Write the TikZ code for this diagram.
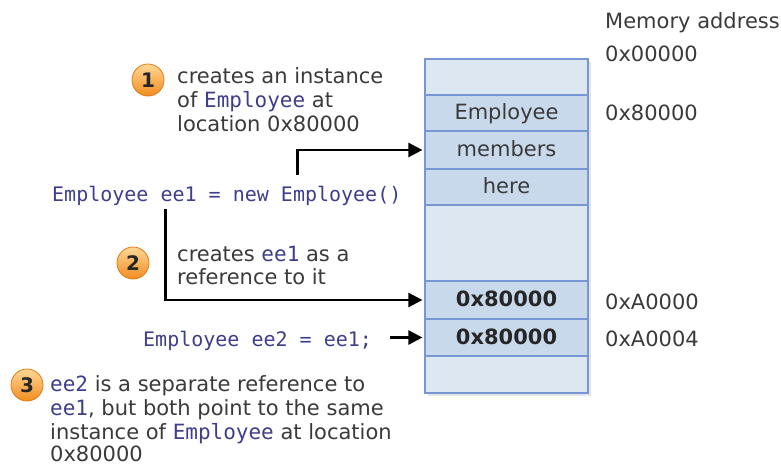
\documentclass[tikz,border=0pt]{standalone}
\usepackage{fontspec}
\setmainfont{DejaVu Sans}
\setmonofont{DejaVu Sans Mono}
\usetikzlibrary{arrows.meta}
\definecolor{txt}{RGB}{58,58,58}
\definecolor{codecol}{RGB}{62,62,140}
\definecolor{cellA}{RGB}{221,231,242}
\definecolor{cellB}{RGB}{201,217,236}
\definecolor{cellline}{RGB}{118,150,212}
\definecolor{orTop}{RGB}{255,216,150}
\definecolor{orBot}{RGB}{242,140,32}
\definecolor{orLine}{RGB}{226,122,22}
\newcommand\codeword[1]{{\ttfamily\color{codecol}#1}}
\begin{document}
\begin{tikzpicture}[x=1pt,y=-1pt,
  lbl/.style={inner sep=0pt, anchor=base west, text=txt, font=\fontsize{21}{24}\selectfont},
  codetxt/.style={inner sep=0pt, anchor=base west, text=codecol, font=\ttfamily\fontsize{20}{24}\selectfont},
  cell/.style={draw=cellline, line width=1.2pt, minimum width=163pt, inner sep=0pt,
    text height=15pt, text depth=2pt, text=txt, font=\fontsize{21}{24}\selectfont},
  light/.style={cell, fill=cellA},
  dark/.style={cell, fill=cellB},
  bold/.style={font=\bfseries\fontsize{21}{24}\selectfont, text=black!85},
  bubble/.style={circle, minimum size=32pt, inner sep=0pt, top color=orTop, bottom color=orBot,
    draw=orLine, line width=0.8pt, text=black!85, font=\bfseries\fontsize{20}{22}\selectfont},
  arr/.style={line width=2.6pt, -{Triangle[length=14pt,width=14pt]}, shorten >=2pt}
]
\useasboundingbox (0,0) rectangle (781,466);

% shadow of memory column
\fill[black!10] (428,62) rectangle (591,396);

% memory cells
\node[light, minimum height=36pt] (m0) at (506.5,77) {};
\node[dark,  minimum height=36pt] (m1) at (506.5,113) {Employee};
\node[dark,  minimum height=38pt] (m2) at (506.5,150) {members};
\node[dark,  minimum height=36pt] (m3) at (506.5,187) {here};
\node[light, minimum height=76pt] (m4) at (506.5,243) {};
\node[dark,  minimum height=38pt, bold] (m5) at (506.5,300) {0x80000};
\node[dark,  minimum height=37pt, bold] (m6) at (506.5,337.5) {0x80000};
\node[light, minimum height=37pt] (m7) at (506.5,374.5) {};

% address labels
\node[lbl] (ma) at (605,28) {Memory address};
\node[lbl] (ad0) at (605,61.5) {0x00000};
\node[lbl] (ad1) at (605,120) {0x80000};
\node[lbl] (ad2) at (605,309) {0xA0000};
\node[lbl] (ad3) at (605,346) {0xA0004};

% bubble 1 and text
\node[bubble] (b1) at (148,80) {1};
\node[lbl] (t1a) at (177,83) {creates an instance};
\node[lbl] (t1b) at (177,107) {of \codeword{Employee} at};
\node[lbl] (t1c) at (177,131) {location 0x80000};

% code line 1
\node[codetxt] (code1) at (52,201) {Employee ee1 = new Employee()};

% bubble 2 and text
\node[bubble] (b2) at (133,263) {2};
\node[lbl] (t2a) at (177,261) {creates \codeword{ee1} as a};
\node[lbl] (t2b) at (177,284) {reference to it};

% code line 2
\node[codetxt] (code2) at (143,346) {Employee ee2 = ee1;};

% bubble 3 and text
\node[bubble] (b3) at (27,385) {3};
\node[lbl] (t3a) at (50,391) {\codeword{ee2} is a separate reference to};
\node[lbl] (t3b) at (50,415) {\codeword{ee1}, but both point to the same};
\node[lbl] (t3c) at (50,439) {instance of \codeword{Employee} at location};
\node[lbl] (t3d) at (50,461) {0x80000};

% connectors
\coordinate (a1s) at (297.5,175);
\coordinate (a2s) at (165.5,209);
\coordinate (a3s) at (390,0);
\draw[arr] (a1s) |- (m2.west);
\draw[arr] (a2s) |- (m5.west);
\draw[arr] (a3s |- m6.west) -- (m6.west);
\end{tikzpicture}
\end{document}
